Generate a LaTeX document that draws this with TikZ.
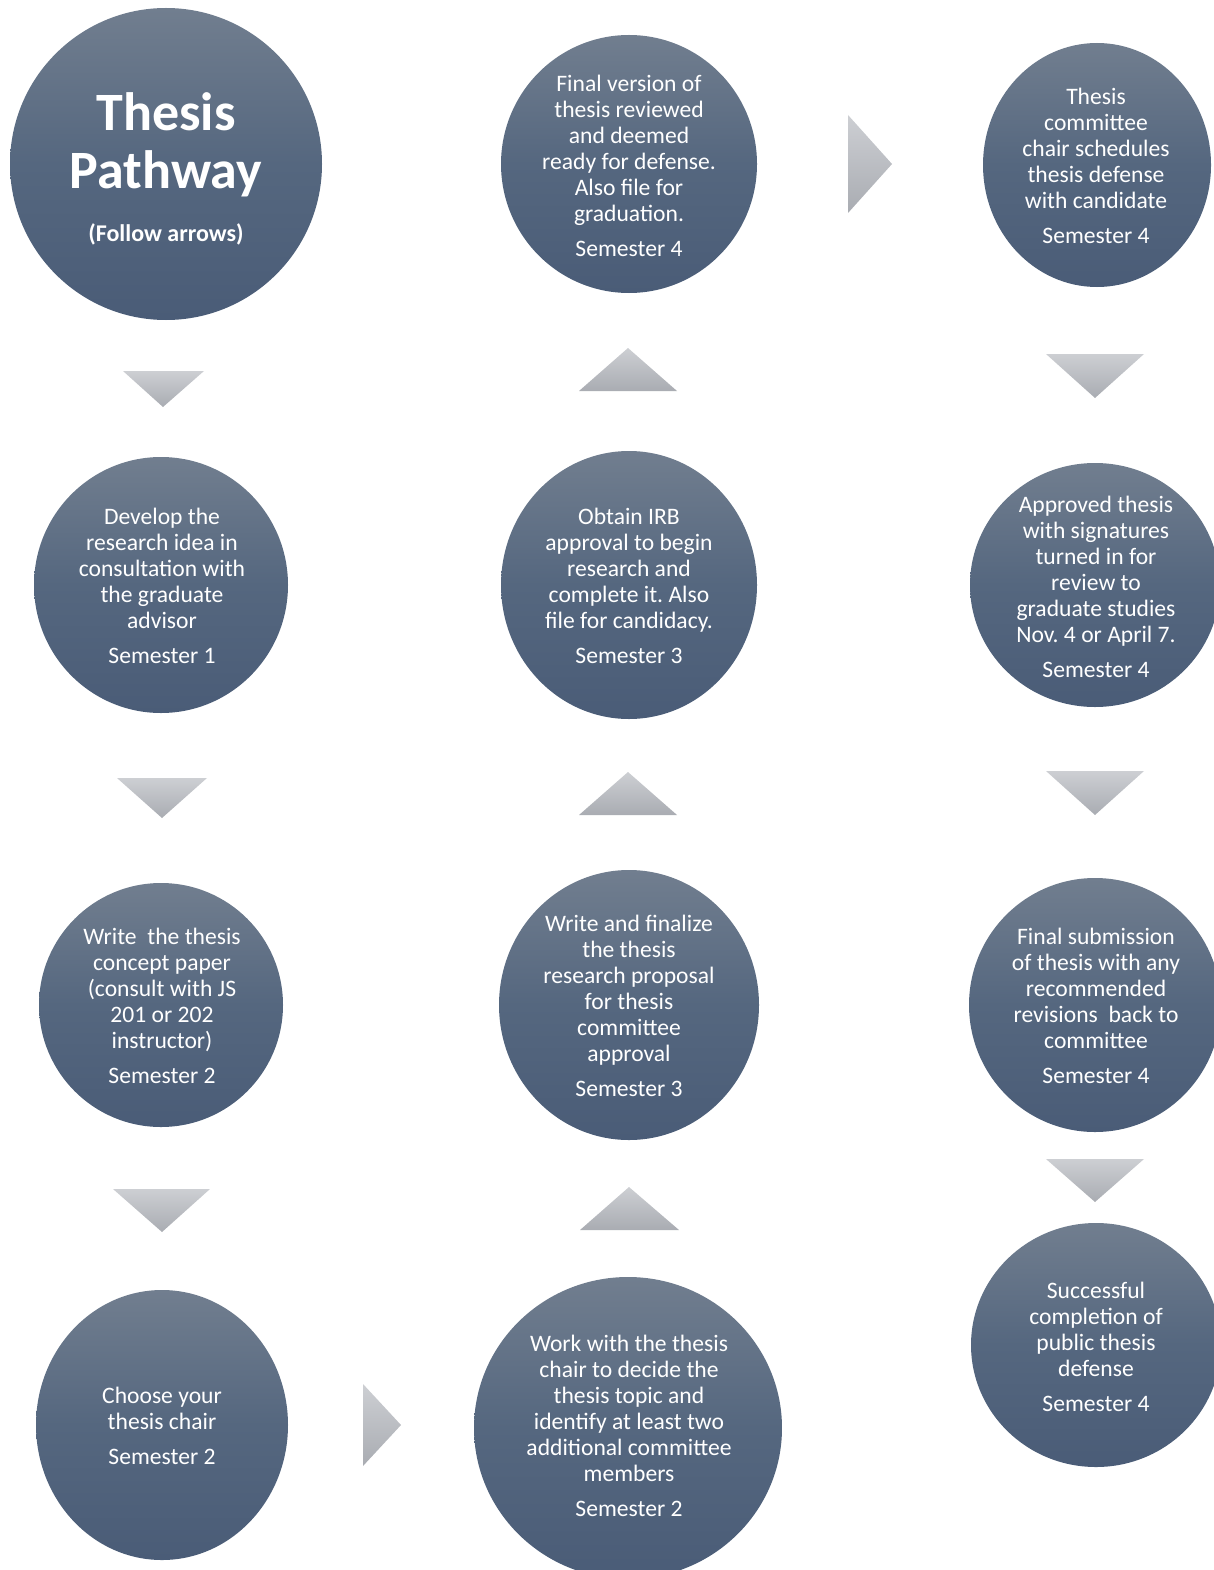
\documentclass[tikz,border=0pt]{standalone}
\usepackage{fontspec}
\setmainfont{Carlito}
\usetikzlibrary{shapes.geometric}
\frenchspacing
\definecolor{ctop}{HTML}{717E8F}
\definecolor{cmid}{HTML}{55677F}
\definecolor{cbot}{HTML}{4A5C77}
\definecolor{atop}{HTML}{CDCFD3}
\definecolor{abot}{HTML}{A9ACB2}
\tikzset{
  bubble/.style={ellipse, inner sep=0pt, draw=none, top color=ctop, bottom color=cbot, middle color=cmid},
  bodytxt/.style={text=white, align=center, inner sep=0pt, font=\fontsize{23.6}{26}\selectfont\frenchspacing},
  titletxt/.style={text=white, inner sep=0pt, anchor=base, font=\fontsize{54}{60}\selectfont\bfseries},
  arrowtri/.style={top color=atop, bottom color=abot, draw=none}
}
\newcommand{\sem}[1]{\\[9pt]Semester #1}
\begin{document}
\begin{tikzpicture}[x=1pt,y=-1pt]
\useasboundingbox (0,0) rectangle (1214,1570);
\clip (0,0) rectangle (1214,1570);
% bubbles
\node[bubble, minimum width=312pt, minimum height=312pt] (c1) at (166,164) {};
\node[bubble, minimum width=256pt, minimum height=258pt] (c2) at (629,164) {};
\node[bubble, minimum width=228pt, minimum height=244pt] (c3) at (1097,165) {};
\node[bubble, minimum width=254pt, minimum height=256pt] (c4) at (161,585) {};
\node[bubble, minimum width=256pt, minimum height=268pt] (c5) at (629,585) {};
\node[bubble, minimum width=250pt, minimum height=244pt] (c6) at (1095,585) {};
\node[bubble, minimum width=244pt, minimum height=244pt] (c7) at (161,1005) {};
\node[bubble, minimum width=260pt, minimum height=270pt] (c8) at (629,1005) {};
\node[bubble, minimum width=252pt, minimum height=254pt] (c9) at (1095,1005) {};
\node[bubble, minimum width=252pt, minimum height=270pt] (c10) at (162,1425) {};
\node[bubble, minimum width=308pt, minimum height=302pt] (c11) at (628,1428) {};
\node[bubble, minimum width=250pt, minimum height=244pt] (c12) at (1096,1345) {};
% title
\node[titletxt] (t1) at (166,131) {Thesis};
\node[titletxt] (t2) at (166,189) {Pathway};
\node[text=white, inner sep=0pt, anchor=base, font=\fontsize{24}{26}\selectfont\bfseries] (t3) at (166,242) {(Follow arrows)};
% texts
\node[bodytxt] (x2) at (629,166) {Final version of\\thesis reviewed\\and deemed\\ready for defense.\\Also file for\\graduation.\sem{4}};
\node[bodytxt] (x3) at (1096,166) {Thesis\\committee\\chair schedules\\thesis defense\\with candidate\sem{4}};
\node[bodytxt] (x4) at (162,586) {Develop the\\research idea in\\consultation with\\the graduate\\advisor\sem{1}};
\node[bodytxt] (x5) at (629,586) {Obtain IRB\\approval to begin\\research and\\complete it. Also\\file for candidacy.\sem{3}};
\node[bodytxt] (x6) at (1096,587) {Approved thesis\\with signatures\\turned in for\\review to\\graduate studies\\Nov. 4 or April 7.\sem{4}};
\node[bodytxt] (x7) at (162,1006) {Write~ the thesis\\concept paper\\(consult with JS\\201 or 202\\instructor)\sem{2}};
\node[bodytxt] (x8) at (629,1006) {Write and finalize\\the thesis\\research proposal\\for thesis\\committee\\approval\sem{3}};
\node[bodytxt] (x9) at (1096,1006) {Final submission\\of thesis with any\\recommended\\revisions~ back to\\committee\sem{4}};
\node[bodytxt] (x10) at (162,1426) {Choose your\\thesis chair\sem{2}};
\node[bodytxt] (x11) at (629,1426) {Work with the thesis\\chair to decide the\\thesis topic and\\identify at least two\\additional committee\\members\sem{2}};
\node[bodytxt] (x12) at (1096,1347) {Successful\\completion of\\public thesis\\defense\sem{4}};
% arrow triangles
\shade[arrowtri] (123,371) -- (204,371) -- (163,407) -- cycle;
\shade[arrowtri] (117,778) -- (207,778) -- (162,818) -- cycle;
\shade[arrowtri] (113,1189) -- (210,1189) -- (162,1232) -- cycle;
\shade[arrowtri] (363,1384) -- (363,1466) -- (401,1425) -- cycle;
\shade[arrowtri] (580,1230) -- (679,1230) -- (629,1187) -- cycle;
\shade[arrowtri] (579,815) -- (677,815) -- (628,772) -- cycle;
\shade[arrowtri] (579,391) -- (677,391) -- (628,348) -- cycle;
\shade[arrowtri] (848,115) -- (848,213) -- (892,164) -- cycle;
\shade[arrowtri] (1046,354) -- (1144,354) -- (1095,398) -- cycle;
\shade[arrowtri] (1046,771) -- (1144,771) -- (1095,815) -- cycle;
\shade[arrowtri] (1046,1159) -- (1144,1159) -- (1095,1202) -- cycle;
\end{tikzpicture}
\end{document}
